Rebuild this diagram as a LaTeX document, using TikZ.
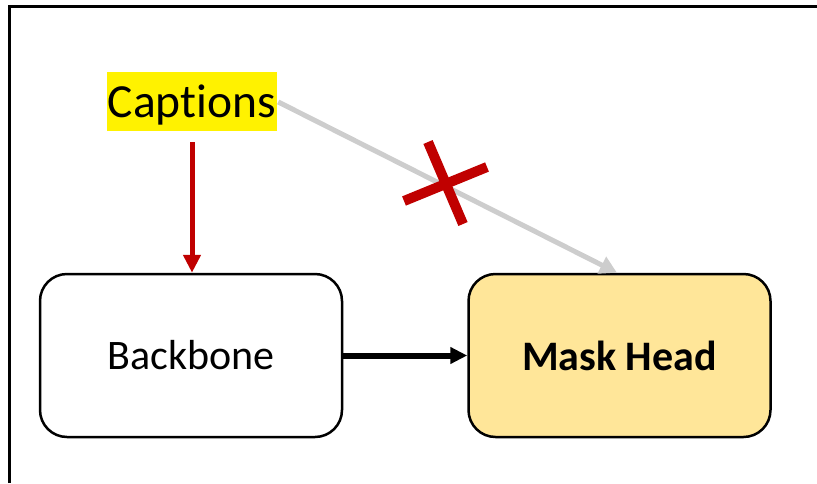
\documentclass[tikz,border=0pt]{standalone}
\usepackage{fontspec}
\setmainfont{Carlito}[Ligatures=NoCommon]
\usetikzlibrary{arrows.meta}
\definecolor{xred}{HTML}{C00000}
\definecolor{gold}{HTML}{FFE699}
\definecolor{lgray}{HTML}{CDCDCD}
\begin{document}
\begin{tikzpicture}[x=1pt,y=-1pt,
  blk/.style={draw=black,line width=2.5pt,rounded corners=27pt,minimum width=302pt,minimum height=163pt,inner sep=0pt,font=\fontsize{42}{48}\selectfont},
  conn/.style={line width=5pt}]
\useasboundingbox (0,0) rectangle (817,483);
\draw[line width=3pt] (9.5,483) -- (9.5,6.5) -- (817,6.5);
\node[fill=yellow,anchor=base,inner xsep=1pt,inner ysep=0pt,text height=45pt,text depth=14pt,font=\fontsize{47.5}{52}\selectfont] (cap) at (192,117) {Captions};
\node[blk,fill=white] (bb) at (191,355.5) {Backbone};
\node[blk,fill=gold,font=\fontsize{42}{48}\selectfont\bfseries] (mh) at (619.5,355.5) {Mask Head};
\draw[conn,xred,shorten <=11pt,-{Triangle[length=18pt,width=17pt]}] (cap.south) -- (cap.south |- bb.north);
\draw[conn,lgray,shorten <=1pt,-{Triangle[length=17pt,width=18pt]}] (cap.east) -- ([xshift=-2.5pt]mh.north);
\draw[conn,line width=6pt,black,-{Triangle[length=17pt,width=16pt]}] (bb.east) -- (mh.west);
\draw[xred,line width=10pt] (428,142) -- (463,224);
\draw[xred,line width=10pt] (404,201) -- (487,167);
\end{tikzpicture}
\end{document}
